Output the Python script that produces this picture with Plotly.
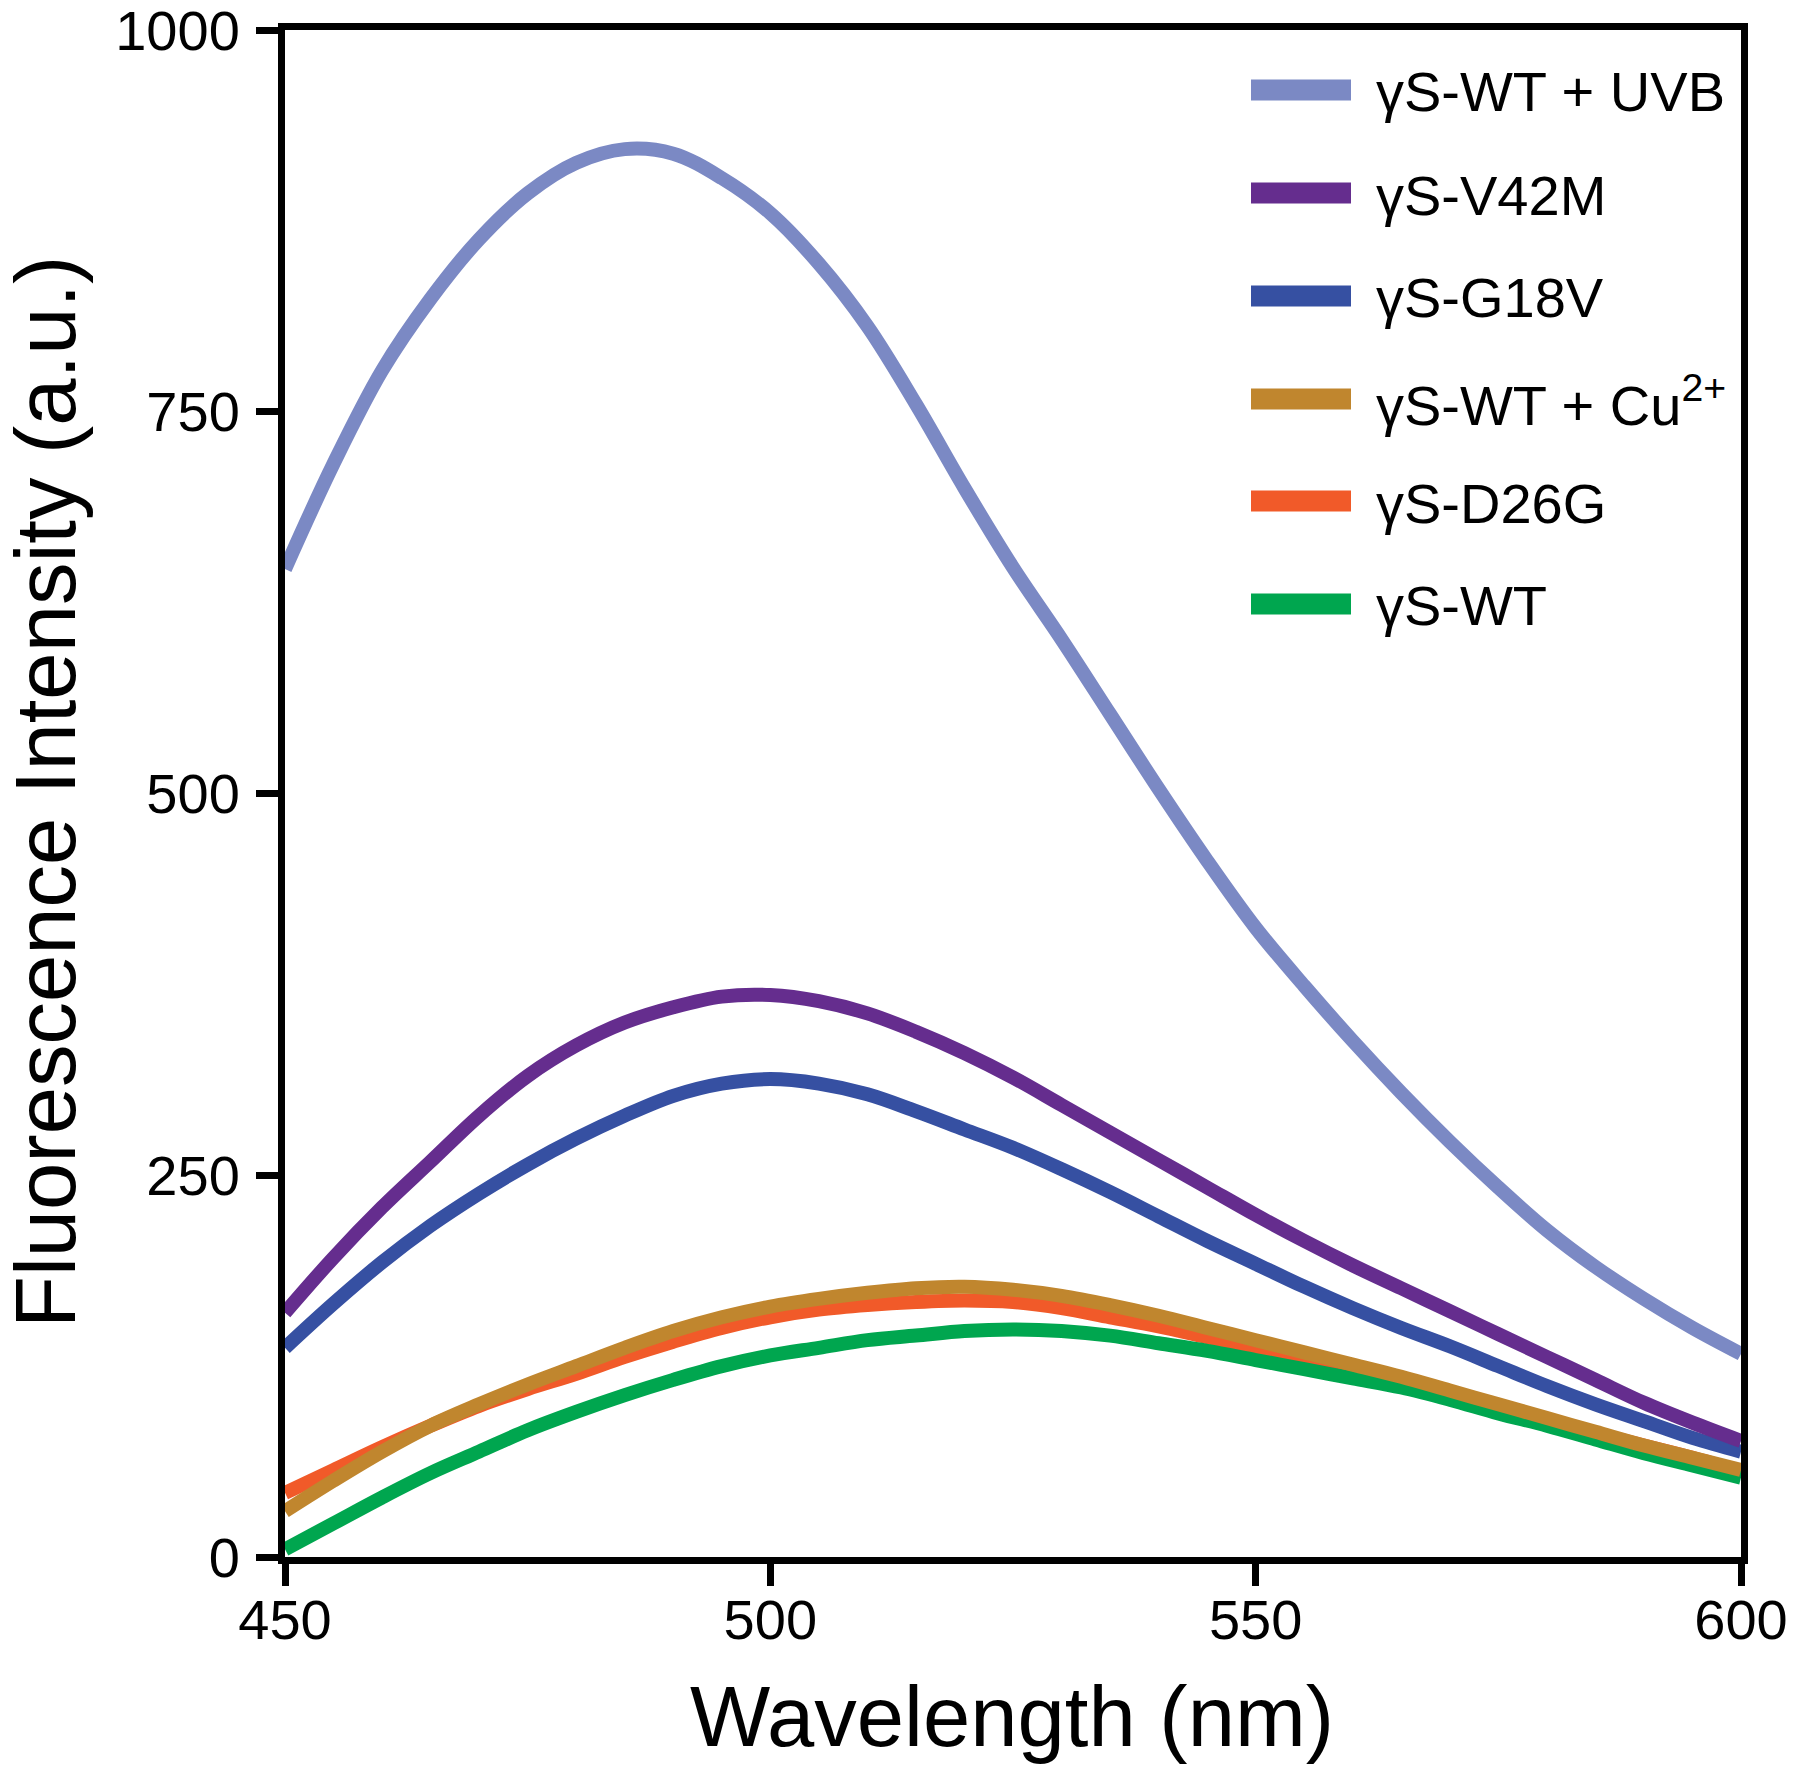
import plotly.graph_objects as go

# Wavelength (nm)
wavelength = [450, 455, 460, 465, 470, 475, 480, 485, 490, 495, 500, 505, 510, 515, 520,
              525, 530, 535, 540, 545, 550, 555, 560, 565, 570, 575, 580, 585, 590, 595, 600]

wt_uvb = [647, 716, 777, 824, 863, 893, 913, 922, 919, 903, 880, 847, 806, 755, 700,
          648, 601, 552, 503, 456, 412, 374, 338, 304, 272, 242, 214, 190, 169, 150, 133]
v42m = [160, 196, 229, 259, 289, 315, 335, 350, 360, 367, 368, 364, 356, 344, 330,
        314, 296, 278, 260, 242, 224, 207, 191, 176, 161, 146, 131, 116, 101, 88, 76]
g18v = [137, 166, 193, 217, 238, 257, 274, 289, 302, 310, 313, 310, 303, 292, 280,
        268, 254, 239, 223, 207, 192, 177, 163, 150, 138, 125, 112, 100, 89, 78, 69]
wt_cu = [30, 50, 69, 86, 100, 113, 125, 137, 148, 157, 164, 169, 173, 176, 177,
         175, 171, 165, 158, 150, 142, 134, 126, 118, 109, 100, 91, 82, 73, 65, 57]
d26g = [42, 57, 72, 86, 99, 110, 120, 131, 141, 150, 157, 162, 165, 167, 168,
        167, 163, 157, 151, 144, 137, 130, 123, 115, 107, 99, 90, 81, 73, 65, 56]
wt = [5, 22, 39, 55, 69, 83, 95, 106, 116, 125, 132, 137, 142, 145, 148,
      149, 148, 145, 140, 135, 129, 123, 117, 111, 103, 94, 86, 77, 68, 60, 52]

series_names = ["γS-WT + UVB", "γS-V42M", "γS-G18V", "γS-WT + Cu<sup>2+</sup>", "γS-D26G", "γS-WT"]
series_values = [wt_uvb, v42m, g18v, wt_cu, d26g, wt]
series_colors = ["#7B89C4", "#652D8E", "#3650A2", "#C0862E", "#F15A29", "#00A64F"]

x_ticks = [450, 500, 550, 600]
y_ticks = [0, 250, 500, 750, 1000]

FONT = "Liberation Sans, Arial, Helvetica, sans-serif"

# page body has an 8px margin; work in reference pixel coords and subtract it
OFF = 8
W, H = 1800 - OFF, 1771 - OFF
PLOT_L, PLOT_R, PLOT_T, PLOT_B = 285, 1741, 30, 1557   # reference pixels (inside axis lines)
L = PLOT_L - OFF
R = W - (PLOT_R - OFF)
T = PLOT_T - OFF
B = H - (PLOT_B - OFF)
pw, ph = PLOT_R - PLOT_L, PLOT_B - PLOT_T


def px_to_paper_x(px):
    return (px - PLOT_L) / pw


def px_to_paper_y(py):
    return (PLOT_B - py) / ph


fig = go.Figure()
draw_order = [4, 5, 3, 2, 1, 0]
for i in draw_order:
    fig.add_trace(go.Scatter(
        x=wavelength, y=series_values[i], name=series_names[i], mode="lines",
        line=dict(color=series_colors[i], width=14, shape="spline", smoothing=1.0),
        showlegend=False,
    ))

# Manual legend (thick swatches like the reference)
row_y = [90, 193, 296, 399, 501, 604]
for name, color, yy in zip(series_names, series_colors, row_y):
    fig.add_shape(type="line", xref="paper", yref="paper",
                  x0=px_to_paper_x(1251), x1=px_to_paper_x(1351),
                  y0=px_to_paper_y(yy), y1=px_to_paper_y(yy),
                  line=dict(color=color, width=21))
    fig.add_annotation(text=name, xref="paper", yref="paper",
                       x=px_to_paper_x(1374), y=px_to_paper_y(yy + 2),
                       xanchor="left", yanchor="middle", showarrow=False,
                       font=dict(family=FONT, size=56, color="black"))

# Axis titles
fig.add_annotation(text="Wavelength (nm)", xref="paper", yref="paper",
                   x=px_to_paper_x(1012), y=px_to_paper_y(1716), xanchor="center", yanchor="middle",
                   showarrow=False, font=dict(family=FONT, size=85, color="black"))
fig.add_annotation(text="Fluorescence Intensity (a.u.)", xref="paper", yref="paper",
                   x=px_to_paper_x(45), y=px_to_paper_y(792), xanchor="center", yanchor="middle",
                   textangle=-90, showarrow=False,
                   font=dict(family=FONT, size=85, color="black"))

axis_common = dict(
    showline=True, linecolor="black", linewidth=7, mirror=True,
    ticks="outside", ticklen=22, tickwidth=7, tickcolor="black",
    showgrid=False, zeroline=False, ticklabeloverflow="allow", automargin=False,
    tickfont=dict(family=FONT, size=56, color="black"),
)

fig.update_xaxes(range=[450, 600], tickvals=x_ticks, ticktext=[str(v) for v in x_ticks],
                 ticklabelstandoff=-14, **axis_common)
fig.update_yaxes(range=[0, 1000], tickvals=y_ticks, ticktext=[str(v) for v in y_ticks],
                 ticklabelstandoff=5, **axis_common)

fig.update_layout(
    width=W, height=H,
    margin=dict(l=L, r=R, t=T, b=B, autoexpand=False),
    paper_bgcolor="white", plot_bgcolor="white",
    font=dict(family=FONT, color="black"),
    showlegend=False,
)

fig.write_html("out.html")
